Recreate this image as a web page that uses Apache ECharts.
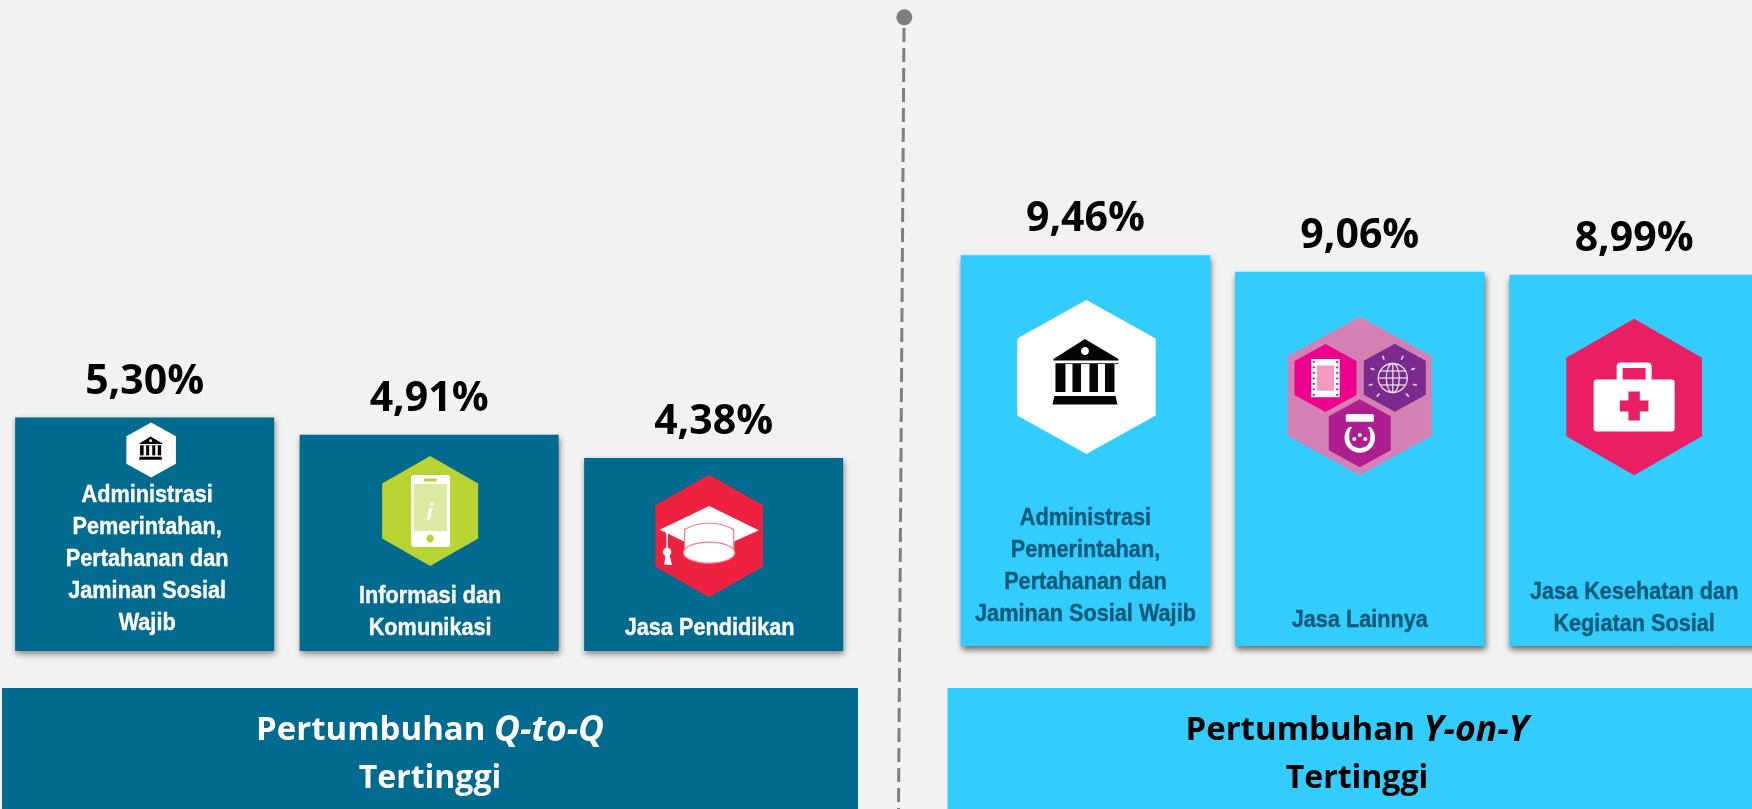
<!DOCTYPE html>
<html><head><meta charset="utf-8">
<style>html,body{margin:0;padding:0;background:#F2F2F2}#c{width:1752px;height:809px}</style>
<script src="https://cdn.jsdelivr.net/npm/echarts@6/dist/echarts.min.js"></script>
</head><body><div id="c"></div>
<script>
const qtqCategories = ['Administrasi\nPemerintahan,\nPertahanan dan\nJaminan Sosial\nWajib', 'Informasi dan\nKomunikasi', 'Jasa Pendidikan'];
const qtqValues = [5.30, 4.91, 4.38];
const yoyCategories = ['Administrasi\nPemerintahan,\nPertahanan dan\nJaminan Sosial Wajib', 'Jasa Lainnya', 'Jasa Kesehatan dan\nKegiatan Sosial'];
const yoyValues = [9.46, 9.06, 8.99];
const qtqTitle = ['Pertumbuhan ', 'Q-to-Q', 'Tertinggi'];
const yoyTitle = ['Pertumbuhan ', 'Y-on-Y', 'Tertinggi'];

const TEAL = '#006B8E', SKY = '#33CCFF', GREY = '#7F7F7F';
const textFont = 'bold 24.5px "Liberation Sans", sans-serif';
const HEAD_FONT = '"Open Sans"';

function hex(p, cx, cy, hw, hh, fill) {
  return {type:'polygon', shape:{points:[[0,-hh],[hw,-hh/2],[hw,hh/2],[0,hh],[-hw,hh/2],[-hw,-hh/2]].map(a=>p(cx+a[0],cy+a[1]))}, style:{fill}};
}
function poly(p, pts, fill) { return {type:'polygon', shape:{points:pts.map(a=>p(a[0],a[1]))}, style:{fill}}; }
function box(p, x0, y0, x1, y1, fill, r) {
  const a=p(x0,y0), b=p(x1,y1);
  return {type:'rect', shape:{x:a[0],y:a[1],width:b[0]-a[0],height:b[1]-a[1],r:r||0}, style:{fill}};
}
function ell(p, s, cx, cy, rx, ry, style) {
  const a=p(cx,cy);
  return {type:'ellipse', shape:{cx:a[0],cy:a[1],rx:rx*s,ry:ry*s}, style};
}
function seg(p, x0, y0, x1, y1, stroke, lw) {
  const a=p(x0,y0), b=p(x1,y1);
  return {type:'line', shape:{x1:a[0],y1:a[1],x2:b[0],y2:b[1]}, style:{stroke,lineWidth:lw,fill:null}};
}
const ICONS = {
  bank(p,s){ const k='#050505'; return [
    hex(p,0,0,69.2,77,'#FFFFFF'),
    poly(p,[[-1.5,-38],[32,-18],[32,-16.5],[-33,-16.5],[-33,-18]],k),
    ell(p,s,-1.5,-26,4,4,{fill:'#FFFFFF'}),
    box(p,-31,-14,32,-13.2,k),
    box(p,-31,-13,-21,15,k), box(p,-14,-13,-5.5,15,k), box(p,3,-13,11.5,15,k), box(p,18.5,-13,28,15,k),
    poly(p,[[-32,19],[29,19],[31,27.5],[-34,27.5]],k)
  ];},
  phone(p,s){ const g='#B7D433'; return [
    hex(p,0,0,48,55,g),
    box(p,-19,-36,20,36,'#FFFFFF',3*s/0.9),
    box(p,-16.5,-27,17,20,'#DCE9A2'),
    box(p,-6.5,-32.5,6.5,-29.5,g,1),
    ell(p,s,0,27.5,3.7,4,{fill:g}),
    poly(p,[[-1,-3],[2.5,-3],[0,8],[-1.5,9],[-3.5,9]],'#FFFFFF'),
    ell(p,s,1.7,-7,1.8,1.8,{fill:'#FFFFFF'})
  ];},
  cap(p,s){ const r='#EE2140', w='#FFFFFF', o='#F47C8C'; return [
    hex(p,0,0,53.8,61.3,r),
    poly(p,[[0,-30],[49.7,-5.7],[25,5.5],[25,14],[-25,14],[-25,5.5],[-49.5,-6.3]],w),
    {type:'path', shape:{pathData:'M-25 -5 Q0 -18 25 -5 L25 16 L-25 16 Z', x:p(-25,-13)[0], y:p(-25,-13)[1], width:50*s, height:27*s, layout:'center'}, style:{fill:w,stroke:o,lineWidth:1.2}},
    ell(p,s,0,16.7,25.7,10.5,{fill:w,stroke:o,lineWidth:1.2}),
    seg(p,-42,-3,-42,13,w,1.6),
    ell(p,s,-42,16,4.2,4.2,{fill:w}),
    poly(p,[[-43.5,18],[-40,18],[-37,29],[-45,28.5]],w)
  ];},
  mix(p,s){ const w='#FFFFFF', pk='#F49AC1', pu='#7B2A8E', m='#AE1E8E', l='#EADCF0'; const fx=-34.3, gx=33, gy=-18, fy=-18;
    const out=[hex(p,0,0,72,79.3,'#D580B5'), hex(p,fx,fy,31,34,'#EC008C'), hex(p,35,-18.3,31,34,pu), hex(p,0,37.3,31,34,m)];
    out.push(box(p,fx-14.2,fy-19,fx+14.2,fy+19.2,w), box(p,fx-8.5,fy-12.5,fx+8.5,fy+12.7,pk));
    for(let i=0;i<7;i++){ out.push(box(p,fx-12.7,fy-17+i*5.5,fx-10.7,fy-15.2+i*5.5,'#EC008C'), box(p,fx+10.7,fy-17+i*5.5,fx+12.7,fy-15.2+i*5.5,'#EC008C')); }
    const st={fill:null,stroke:l,lineWidth:1.3};
    out.push(ell(p,s,gx,gy,14.5,14.5,st), ell(p,s,gx,gy,6.5,14.5,st));
    out.push(seg(p,gx,gy-14.5,gx,gy+14.5,l,1.3), seg(p,gx-14.5,gy,gx+14.5,gy,l,1.3), seg(p,gx-12.5,gy-7,gx+12.5,gy-7,l,1.3), seg(p,gx-12.5,gy+7,gx+12.5,gy+7,l,1.3));
    [[-.42,-.9],[-.9,-.4],[-.98,.3],[-.65,.76],[.65,.76],[.98,.3],[.9,-.4],[.42,-.9]].forEach(d=>{
      out.push(seg(p,gx+d[0]*20.5,gy+d[1]*20.5,gx+d[0]*24.5,gy+d[1]*24.5,l,1.6)); });
    out.push(ell(p,s,0,41.7,15.3,15,{fill:w}));
    out.push(box(p,-17,25,17,31,m));
    out.push(box(p,-10.5,28,10.5,52.3,m,10));
    out.push(box(p,-14,18,14,25.7,w,1.5));
    [[-5.5,43],[0,39],[5.5,43]].forEach(d=>out.push(ell(p,s,d[0],d[1],2,2,{fill:w})));
    return out;
  },
  med(p,s){ const r='#E91E63', w='#FFFFFF'; return [
    hex(p,0,0,67.8,78.3,r),
    box(p,-17.5,-34.5,17.5,-15,w,4),
    box(p,-11.5,-29,11.5,-15,r),
    box(p,-40.5,-17.5,40.5,34.5,w,3),
    box(p,-5.7,-5.5,5.7,23.5,r),
    box(p,-14.3,3.5,14.3,14.5,r)
  ];}
};

const qtqLayout = [
  {icon:'bank',  dx:6.5,  up:201, s:0.358, tx:2.5, lastY:-27.5},
  {icon:'phone', dx:1,    up:140, s:1,     tx:1,   lastY:-23},
  {icon:'cap',   dx:-4.5, up:115, s:1,     tx:-4,  lastY:-23}
];
const yoyLayout = [
  {icon:'bank',  dx:1,    up:269, s:1, tx:0,   lastY:-32},
  {icon:'mix',   dx:0,    up:250, s:1, tx:0,   lastY:-26},
  {icon:'med',   dx:0,    up:249, s:1, tx:0,   lastY:-22}
];

function decor(layouts, names, color) {
  return function (params, api) {
    const i = api.value(0), L = layouts[i], base = api.coord([i, 0]);
    const cx = base[0] + L.dx, cy = base[1] - L.up, s = L.s;
    const p = (x, y) => [cx + x * s, cy + y * s];
    const children = ICONS[L.icon](p, s);
    const lines = names[i].split('\n');
    lines.forEach((t, k) => children.push({type:'text', x:base[0] + L.tx, y:base[1] + L.lastY - (lines.length - 1 - k) * 32, scaleX:0.885,
      style:{text:t, x:0, y:0, font:textFont, fill:color, align:'center', verticalAlign:'middle', stroke:color, lineWidth:0.4}}));
    return {type:'group', children};
  };
}

const fmt = o => o.value.toFixed(2).replace('.', ',') + '%';
function barSeries(idx, values, color) {
  return {type:'bar', xAxisIndex:idx, yAxisIndex:idx, data:values, barWidth:idx?249.5:259, itemStyle:{color, shadowColor:idx?'rgba(0,0,0,0.55)':'rgba(0,0,0,0.45)', shadowBlur:6, shadowOffsetX:1, shadowOffsetY:idx?4:3},
    label:{show:true, position:'top', distance:15, formatter:fmt, color:'#000', fontFamily:HEAD_FONT, fontWeight:'bold', fontSize:41}, silent:true, animation:false};
}
function title(x, t, color) {
  const st = (size, style) => ({fill:color, fontFamily:HEAD_FONT, fontWeight:'bold', fontStyle:style, fontSize:size, lineHeight:48});
  return {type:'text', x, y:754.5, style:{text:`{b|${t[0]}}{i|${t[1]}}\n{c|${t[2]}}`, align:'center', verticalAlign:'middle', fill:color, rich:{
    b:st(33,'normal'), i:st(35.5,'italic'), c:st(32,'normal')}}, z:5};
}

const chart = echarts.init(document.getElementById('c'));
chart.setOption({
  backgroundColor:'#F2F2F2', animation:false,
  grid:[{left:2.4, width:853.5, top:386.6, height:264.4, outerBoundsMode:'none'},{left:948.3, width:823, top:233, height:413, outerBoundsMode:'none'}],
  xAxis:[{type:'category', gridIndex:0, data:qtqCategories, show:false},{type:'category', gridIndex:1, data:yoyCategories, show:false}],
  yAxis:[{type:'value', gridIndex:0, min:0, max:6, show:false},{type:'value', gridIndex:1, min:0, max:10, show:false}],
  series:[
    barSeries(0, qtqValues, TEAL),
    barSeries(1, yoyValues, SKY),
    {type:'custom', xAxisIndex:0, yAxisIndex:0, clip:false, silent:true, z:5, data:qtqCategories.map((_, i)=>[i]), encode:{x:0}, renderItem:decor(qtqLayout, qtqCategories, '#FFFFFF')},
    {type:'custom', xAxisIndex:1, yAxisIndex:1, clip:false, silent:true, z:5, data:yoyCategories.map((_, i)=>[i]), encode:{x:0}, renderItem:decor(yoyLayout, yoyCategories, '#0B5A78')}
  ],
  graphic:[
    {type:'rect', shape:{x:2,y:688,width:856,height:121}, style:{fill:TEAL}},
    {type:'rect', shape:{x:947.5,y:688,width:805,height:121}, style:{fill:SKY}},
    title(430, qtqTitle, '#FFFFFF'),
    title(1357, yoyTitle, '#000000'),
    {type:'line', shape:{x1:904,y1:28,x2:898.5,y2:809}, style:{stroke:GREY, lineWidth:3, lineDash:[14,6]}},
    {type:'circle', shape:{cx:904.3,cy:17.3,r:8}, style:{fill:GREY}}
  ]
});
</script></body></html>
